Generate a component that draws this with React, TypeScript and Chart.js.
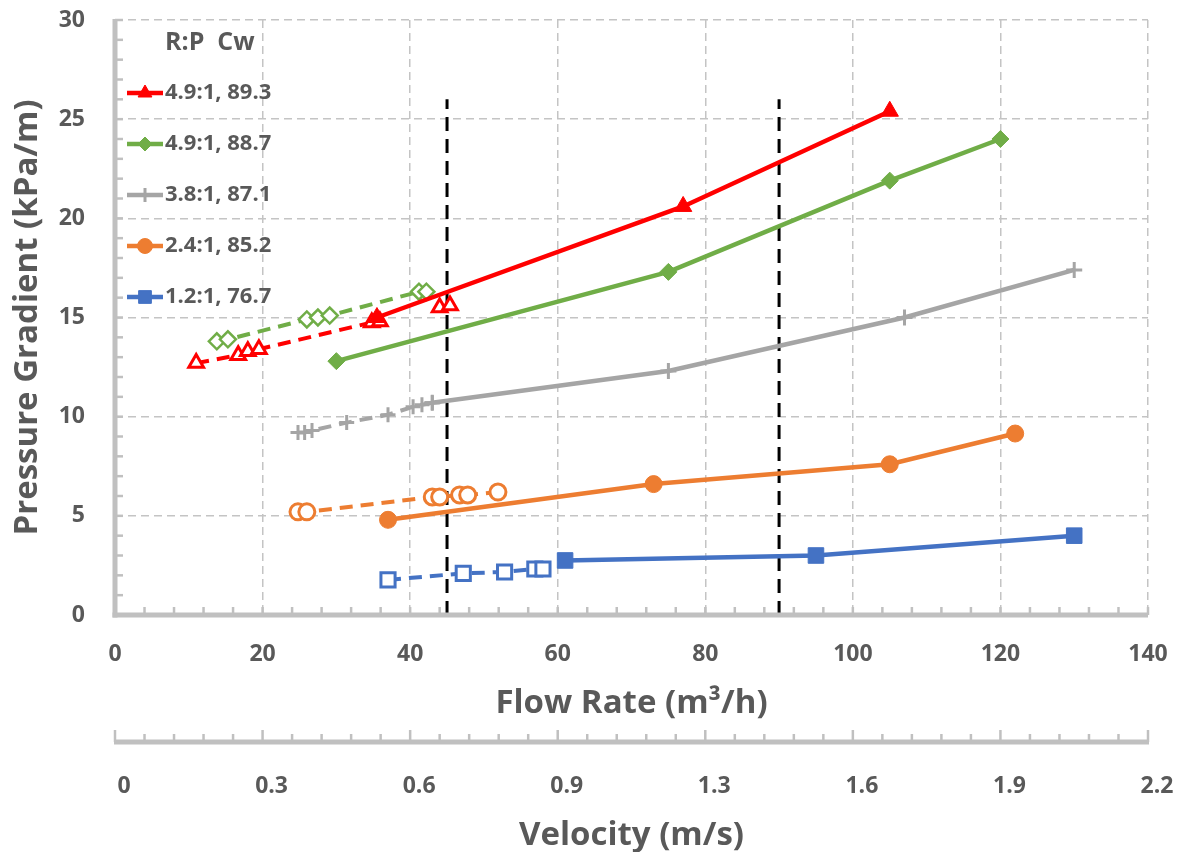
import React, { useEffect, useRef } from 'react';
import { Chart, registerables } from 'chart.js';
import { drawPoint } from 'chart.js/helpers';

Chart.register(...registerables);

// ---------- data ----------
const xTickValues = [0, 20, 40, 60, 80, 100, 120, 140];
const velocityLabels = ['0', '0.3', '0.6', '0.9', '1.3', '1.6', '1.9', '2.2'];

const redSolidX = [35.5, 77, 105];
const redSolidY = [15.0, 20.6, 25.4];
const redDashX = [11, 16.7, 18, 19.5, 34.8, 35.9];
const redDashY = [12.7, 13.1, 13.3, 13.4, 14.75, 14.8];
const redExtraX = [44, 45.4];
const redExtraY = [15.5, 15.6];

const greenSolidX = [30, 75, 105, 120];
const greenSolidY = [12.8, 17.3, 21.9, 24.0];
const greenDashX = [13.8, 15.3, 26, 27.5, 29.1, 41.2, 42.2];
const greenDashY = [13.8, 13.9, 14.9, 15.0, 15.1, 16.3, 16.3];

const graySolidX = [43, 75, 107, 130];
const graySolidY = [10.7, 12.3, 15.0, 17.4];
const grayDashX = [24.8, 25.7, 26.7, 31.4, 37, 40.4, 41.6, 43];
const grayDashY = [9.2, 9.2, 9.3, 9.7, 10.1, 10.5, 10.6, 10.7];

const orangeSolidX = [37, 73, 105, 122];
const orangeSolidY = [4.8, 6.6, 7.6, 9.15];
const orangeDashX = [24.8, 26, 43, 44, 46.7, 47.8, 51.9];
const orangeDashY = [5.2, 5.2, 5.95, 5.95, 6.05, 6.05, 6.2];

const blueSolidX = [61, 95, 130];
const blueSolidY = [2.75, 3.0, 4.0];
const blueDashX = [37, 47.2, 52.8, 56.9, 58];
const blueDashY = [1.77, 2.1, 2.17, 2.32, 2.32];

const vLineX = [45, 90];
const vLineY = [0, 26];

const legendTitle = 'R:P  Cw';
const legendLabels = ['4.9:1, 89.3', '4.9:1, 88.7', '3.8:1, 87.1', '2.4:1, 85.2', '1.2:1, 76.7'];

// ---------- style ----------
const FONT = "'Open Sans', 'DejaVu Sans', sans-serif";
const TEXT = '#595959';
const GRID = '#C4C4C4';
const AXIS = '#C0C0C0';
const CLEAR = 'rgba(0,0,0,0)';
const RED = '#FF0000';
const GREEN = '#70AD47';
const GRAY = '#A5A5A5';
const ORANGE = '#ED7D31';
const BLUE = '#4472C4';

const pts = (xs: number[], ys: number[]) => xs.map((x, i) => ({ x, y: ys[i] }));

const solid = (data: any, color: string, style: string, radius: number, bw = 1) => ({
  data,
  showLine: true,
  borderColor: color,
  backgroundColor: color,
  borderWidth: 4.5,
  pointStyle: style,
  pointRadius: radius,
  pointBackgroundColor: color,
  pointBorderColor: color,
  pointBorderWidth: bw,
  tension: 0,
});

const dashed = (data: any, color: string, style: string, radius: number, bw = 2.5, line = true) => ({
  data,
  showLine: line,
  borderColor: color,
  backgroundColor: '#FFFFFF',
  borderWidth: 4,
  borderDash: [13, 8],
  pointStyle: style,
  pointRadius: radius,
  pointBackgroundColor: '#FFFFFF',
  pointBorderColor: color,
  pointBorderWidth: bw,
  tension: 0,
});

const legendItems = [
  { color: RED, style: 'triangle', radius: 8 },
  { color: GREEN, style: 'rectRot', radius: 7 },
  { color: GRAY, style: 'cross', radius: 7 },
  { color: ORANGE, style: 'circle', radius: 7.5 },
  { color: BLUE, style: 'rect', radius: 9 },
];

const decorPlugin = {
  id: 'decor',
  afterDatasetsDraw(chart: any) {
    const { ctx, chartArea: ca, scales } = chart;
    const xs = scales.x;
    const ys = scales.y;
    const x2 = scales.x2;
    const line = (a: number, b: number, c: number, d: number) => {
      ctx.beginPath();
      ctx.moveTo(a, b);
      ctx.lineTo(c, d);
      ctx.stroke();
    };
    ctx.save();
    ctx.setLineDash([]);
    ctx.strokeStyle = AXIS;
    ctx.lineCap = 'butt';
    // main axes
    ctx.lineWidth = 5;
    line(ca.left, ca.top - 1, ca.left, ca.bottom + 2.5);
    line(ca.left - 2.5, ca.bottom, ca.right, ca.bottom);
    // minor ticks
    ctx.lineWidth = 2.5;
    for (let v = ys.min; v <= ys.max; v += 1) {
      const p = ys.getPixelForValue(v);
      line(ca.left, p, ca.left + 8, p);
    }
    for (let v = xs.min; v <= xs.max; v += 4) {
      const p = xs.getPixelForValue(v);
      line(p, ca.bottom, p, ca.bottom - 8);
    }
    // velocity axis
    const vy = x2.top + 17;
    ctx.lineWidth = 5;
    line(ca.left - 1, vy, ca.right + 1, vy);
    ctx.lineWidth = 2.5;
    for (let v = xs.min; v <= xs.max; v += 4) {
      const p = xs.getPixelForValue(v);
      const major = v % 20 === 0;
      line(p, vy, p, vy - (major ? 12 : 8));
    }
    ctx.restore();
  },
  afterDraw(chart: any) {
    const { ctx, chartArea: ca } = chart;
    ctx.save();
    ctx.fillStyle = TEXT;
    ctx.textBaseline = 'middle';
    ctx.textAlign = 'left';
    ctx.font = `bold 25px ${FONT}`;
    const tx = ca.left + 50;
    ctx.fillText(legendTitle, tx, ca.top + 23);
    ctx.font = `bold 22px ${FONT}`;
    legendItems.forEach((it, i) => {
      const y = ca.top + 73 + i * 51;
      ctx.setLineDash([]);
      ctx.strokeStyle = it.color;
      ctx.fillStyle = it.color;
      ctx.lineWidth = 4.5;
      ctx.beginPath();
      ctx.moveTo(ca.left + 12, y);
      ctx.lineTo(ca.left + 48, y);
      ctx.stroke();
      ctx.lineWidth = it.style === 'cross' ? 3 : 1;
      drawPoint(ctx, { pointStyle: it.style, radius: it.radius, rotation: 0, borderWidth: ctx.lineWidth } as any, ca.left + 30, y);
      ctx.fillStyle = TEXT;
      ctx.fillText(legendLabels[i], tx, y);
    });
    ctx.restore();
  },
};

export default function App() {
  const ref = useRef<HTMLCanvasElement>(null);
  useEffect(() => {
    document.body.style.margin = '0';
    const datasets: any[] = [
      solid(pts(redSolidX, redSolidY), RED, 'triangle', 10),
      dashed(pts(redDashX, redDashY), RED, 'triangle', 8.5, 3),
      dashed(pts(redExtraX, redExtraY), RED, 'triangle', 8.5, 3, false),
      solid(pts(greenSolidX, greenSolidY), GREEN, 'rectRot', 8.5),
      dashed(pts(greenDashX, greenDashY), GREEN, 'rectRot', 8, 2.5),
      solid(pts(graySolidX, graySolidY), GRAY, 'cross', 8, 3),
      dashed(pts(grayDashX, grayDashY), GRAY, 'cross', 7.5, 3),
      solid(pts(orangeSolidX, orangeSolidY), ORANGE, 'circle', 8.5),
      dashed(pts(orangeDashX, orangeDashY), ORANGE, 'circle', 8, 3),
      solid(pts(blueSolidX, blueSolidY), BLUE, 'rect', 11),
      dashed(pts(blueDashX, blueDashY), BLUE, 'rect', 10, 3),
    ];
    vLineX.forEach((vx) => {
      datasets.push({
        data: vLineY.map((y) => ({ x: vx, y })),
        showLine: true,
        borderColor: '#000000',
        borderWidth: 3,
        borderDash: [14, 8],
        pointRadius: 0,
      });
    });

    const chart = new Chart(ref.current as HTMLCanvasElement, {
      type: 'scatter',
      data: { datasets },
      plugins: [decorPlugin],
      options: {
        responsive: false,
        animation: false,
        devicePixelRatio: 1,
        layout: { padding: { top: 20, right: 32, bottom: 0, left: 0 } },
        plugins: { legend: { display: false }, tooltip: { enabled: false } },
        scales: {
          x: {
            type: 'linear',
            position: 'bottom',
            min: 0,
            max: 140,
            afterBuildTicks: (s: any) => {
              s.ticks = xTickValues.map((v) => ({ value: v }));
            },
            afterFit: (s: any) => {
              s.height = 110;
            },
            ticks: { font: { family: FONT, size: 23, weight: 'bold' }, color: TEXT, padding: 0, maxRotation: 0 },
            grid: { color: GRID, lineWidth: 1.5, drawTicks: true, tickLength: 26, tickColor: CLEAR },
            border: { display: false, dash: [8, 5] },
            title: {
              display: true,
              text: 'Flow Rate (m³/h)',
              color: TEXT,
              font: { family: FONT, size: 33, weight: 'bold', lineHeight: 1 },
              padding: { top: 0, bottom: 5 },
            },
          },
          x2: {
            type: 'linear',
            position: 'bottom',
            weight: 1,
            min: 0,
            max: 140,
            afterBuildTicks: (s: any) => {
              s.ticks = xTickValues.map((v) => ({ value: v }));
            },
            afterFit: (s: any) => {
              s.height = 127;
            },
            ticks: {
              font: { family: FONT, size: 23, weight: 'bold' },
              color: TEXT,
              padding: 0,
              labelOffset: 9,
              maxRotation: 0,
              callback: (_v: any, i: number) => velocityLabels[i],
            },
            grid: { display: true, drawOnChartArea: false, drawTicks: true, tickLength: 48, color: CLEAR, tickColor: CLEAR },
            border: { display: false },
            title: {
              display: true,
              text: 'Velocity (m/s)',
              color: TEXT,
              font: { family: FONT, size: 33, weight: 'bold', lineHeight: 1 },
              padding: { top: 0, bottom: 0 },
            },
          },
          y: {
            type: 'linear',
            min: 0,
            max: 30,
            ticks: { stepSize: 5, font: { family: FONT, size: 23, weight: 'bold' }, color: TEXT, padding: 0 },
            afterFit: (s: any) => {
              s.width = 115;
            },
            grid: { color: GRID, lineWidth: 1.5, drawTicks: true, tickLength: 30, tickColor: CLEAR },
            border: { display: false, dash: [8, 5] },
            title: {
              display: true,
              text: 'Pressure Gradient (kPa/m)',
              color: TEXT,
              font: { family: FONT, size: 33, weight: 'bold', lineHeight: 1 },
              padding: { top: 11, bottom: 0 },
            },
          },
        },
      } as any,
    });
    return () => chart.destroy();
  }, []);
  return <canvas ref={ref} width={1180} height={852} style={{ display: 'block', width: 1180, height: 852 }} />;
}
